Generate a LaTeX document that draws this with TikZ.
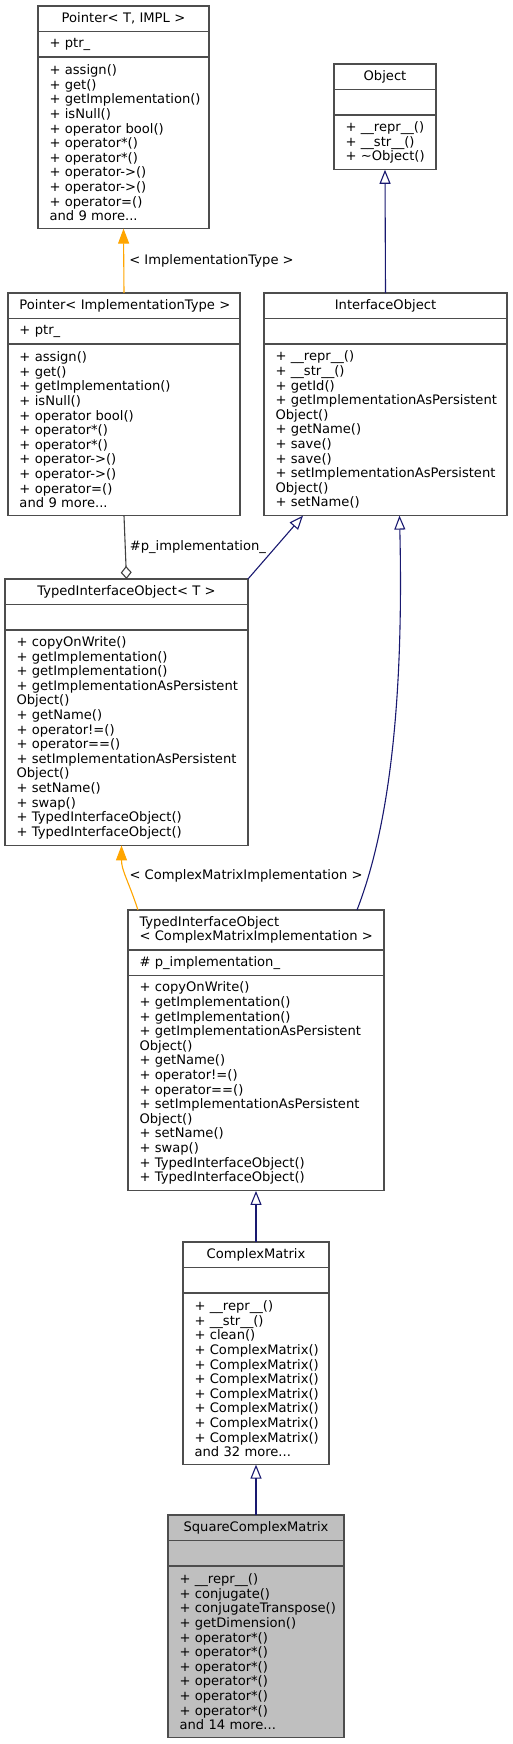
\documentclass[tikz,border=0pt]{standalone}
\usepackage{fontspec}
\newfontfamily\dejavu{DejaVu Sans}
\usetikzlibrary{arrows.meta,positioning}
\definecolor{boxline}{HTML}{4D4D4D}
\definecolor{inhblue}{HTML}{191970}
\definecolor{tmplorange}{HTML}{FFA500}
\definecolor{aggrgray}{HTML}{404040}
\definecolor{curfill}{HTML}{BFBFBF}
\tikzset{
  cls/.style={draw=boxline,fill=white,line width=1.1pt,outer sep=0pt,inner xsep=11.5pt,inner ysep=2pt,minimum width=#1,text width={#1-23},
    font=\dejavu\fontsize{13.1}{14.6}\selectfont,execute at begin node={\hyphenpenalty=10000\exhyphenpenalty=10000}},
  ctitle/.style={cls=#1,minimum height=25.5,align=center},
  cattr/.style={cls=#1,minimum height=25.5,align=left},
  cops/.style 2 args={cls=#1,minimum height={#2*14.6+11},align=left},
  elabel/.style={font=\dejavu\fontsize{13.1}{14.6}\selectfont,inner sep=0pt,text=black},
  inh/.style={draw=inhblue,line width=1.1pt,-{Triangle[open,length=14pt,width=11pt]}},
  tmpl/.style={draw=tmplorange,line width=1.1pt,-{Triangle[length=15pt,width=11pt,fill=tmplorange]}},
  aggr/.style={draw=aggrgray,line width=1.1pt,-{Diamond[open,length=13pt,width=11pt]}},
}

\begin{document}
\begin{tikzpicture}[x=1pt,y=-1pt]
  \useasboundingbox (0,0) rectangle (512,1744);
  % Pointer< T, IMPL >
  \node[ctitle=171,anchor=north] (ptrT) at (123.5,6) {Pointer<~T,~IMPL~>};
  \node[cattr=171,below=0pt of ptrT] (ptrT-a) {+~ptr\_};
  \node[cops={171}{11},below=0pt of ptrT-a] (ptrT-m) {+~assign()\\+~get()\\+~getImplementation()\\+~isNull()\\+~operator bool()\\+~operator*()\\+~operator*()\\+~operator->()\\+~operator->()\\+~operator=()\\and 9 more...};
  % Object
  \node[ctitle=102,anchor=north] (obj) at (385,64) {Object};
  \node[cattr=102,below=0pt of obj] (obj-a) {};
  \node[cops={102}{3},below=0pt of obj-a] (obj-m) {+~\_\_repr\_\_()\\+~\_\_str\_\_()\\+~\textasciitilde Object()};
  % Pointer< ImplementationType >
  \node[ctitle=232,anchor=north] (ptrIT) at (124,293) {Pointer<~ImplementationType~>};
  \node[cattr=232,below=0pt of ptrIT] (ptrIT-a) {+~ptr\_};
  \node[cops={232}{11},below=0pt of ptrIT-a] (ptrIT-m) {+~assign()\\+~get()\\+~getImplementation()\\+~isNull()\\+~operator bool()\\+~operator*()\\+~operator*()\\+~operator->()\\+~operator->()\\+~operator=()\\and 9 more...};
  % InterfaceObject
  \node[ctitle=243,anchor=north] (io) at (385.5,293) {InterfaceObject};
  \node[cattr=243,below=0pt of io] (io-a) {};
  \node[cops={243}{11},below=0pt of io-a] (io-m) {+~\_\_repr\_\_()\\+~\_\_str\_\_()\\+~getId()\\+~getImplementationAsPersistent\\Object()\\+~getName()\\+~save()\\+~save()\\+~setImplementationAsPersistent\\Object()\\+~setName()};
  % TypedInterfaceObject< T >
  \node[ctitle=243,anchor=north] (tioT) at (126.5,579) {TypedInterfaceObject<~T~>};
  \node[cattr=243,below=0pt of tioT] (tioT-a) {};
  \node[cops={243}{14},below=0pt of tioT-a] (tioT-m) {+~copyOnWrite()\\+~getImplementation()\\+~getImplementation()\\+~getImplementationAsPersistent\\Object()\\+~getName()\\+~operator!=()\\+~operator==()\\+~setImplementationAsPersistent\\Object()\\+~setName()\\+~swap()\\+~TypedInterfaceObject()\\+~TypedInterfaceObject()};
  % TypedInterfaceObject< ComplexMatrixImplementation >
  \node[ctitle=256,minimum height=40,align=left,anchor=north] (cmi) at (256,910) {TypedInterfaceObject\\<~ComplexMatrixImplementation~>};
  \node[cattr=256,below=0pt of cmi] (cmi-a) {\#~p\_implementation\_};
  \node[cops={256}{14},below=0pt of cmi-a] (cmi-m) {+~copyOnWrite()\\+~getImplementation()\\+~getImplementation()\\+~getImplementationAsPersistent\\Object()\\+~getName()\\+~operator!=()\\+~operator==()\\+~setImplementationAsPersistent\\Object()\\+~setName()\\+~swap()\\+~TypedInterfaceObject()\\+~TypedInterfaceObject()};
  % ComplexMatrix
  \node[ctitle=146,anchor=north] (cm) at (256,1242) {ComplexMatrix};
  \node[cattr=146,below=0pt of cm] (cm-a) {};
  \node[cops={146}{11},below=0pt of cm-a] (cm-m) {+~\_\_repr\_\_()\\+~\_\_str\_\_()\\+~clean()\\+~ComplexMatrix()\\+~ComplexMatrix()\\+~ComplexMatrix()\\+~ComplexMatrix()\\+~ComplexMatrix()\\+~ComplexMatrix()\\+~ComplexMatrix()\\and 32 more...};
  % SquareComplexMatrix
  \node[ctitle=176,fill=curfill,anchor=north] (scm) at (256,1515) {SquareComplexMatrix};
  \node[cattr=176,fill=curfill,below=0pt of scm] (scm-a) {};
  \node[cops={176}{11},fill=curfill,below=0pt of scm-a] (scm-m) {+~\_\_repr\_\_()\\+~conjugate()\\+~conjugateTranspose()\\+~getDimension()\\+~operator*()\\+~operator*()\\+~operator*()\\+~operator*()\\+~operator*()\\+~operator*()\\and 14 more...};

  % connectors
  \draw[tmpl] (ptrIT.north) -- (ptrT-m.south) node[midway,anchor=west,xshift=5pt,elabel] {< ImplementationType >};
  \draw[inh] (io.north) -- (obj-m.south);
  \draw[aggr] (ptrIT-m.south) -- (tioT.north) node[midway,anchor=west,xshift=4pt,elabel] {\#p\_implementation\_};
  \draw[inh] (tioT.north east) -- ([xshift=39pt]io-m.south west);
  \draw[tmpl] ([xshift=10pt]cmi.north west) .. controls +(-10,-30) and +(0,25) .. ([xshift=-5pt]tioT-m.south) node[pos=0.5,anchor=west,xshift=3pt,elabel] {< ComplexMatrixImplementation >};
  \draw[inh] ([xshift=-27pt]cmi.north east) .. controls +(35,-90) and +(4,170) .. ([xshift=14pt]io-m.south);
  \draw[inh] (cm.north) -- (cmi-m.south);
  \draw[inh] (scm.north) -- (cm-m.south);
\end{tikzpicture}
\end{document}
